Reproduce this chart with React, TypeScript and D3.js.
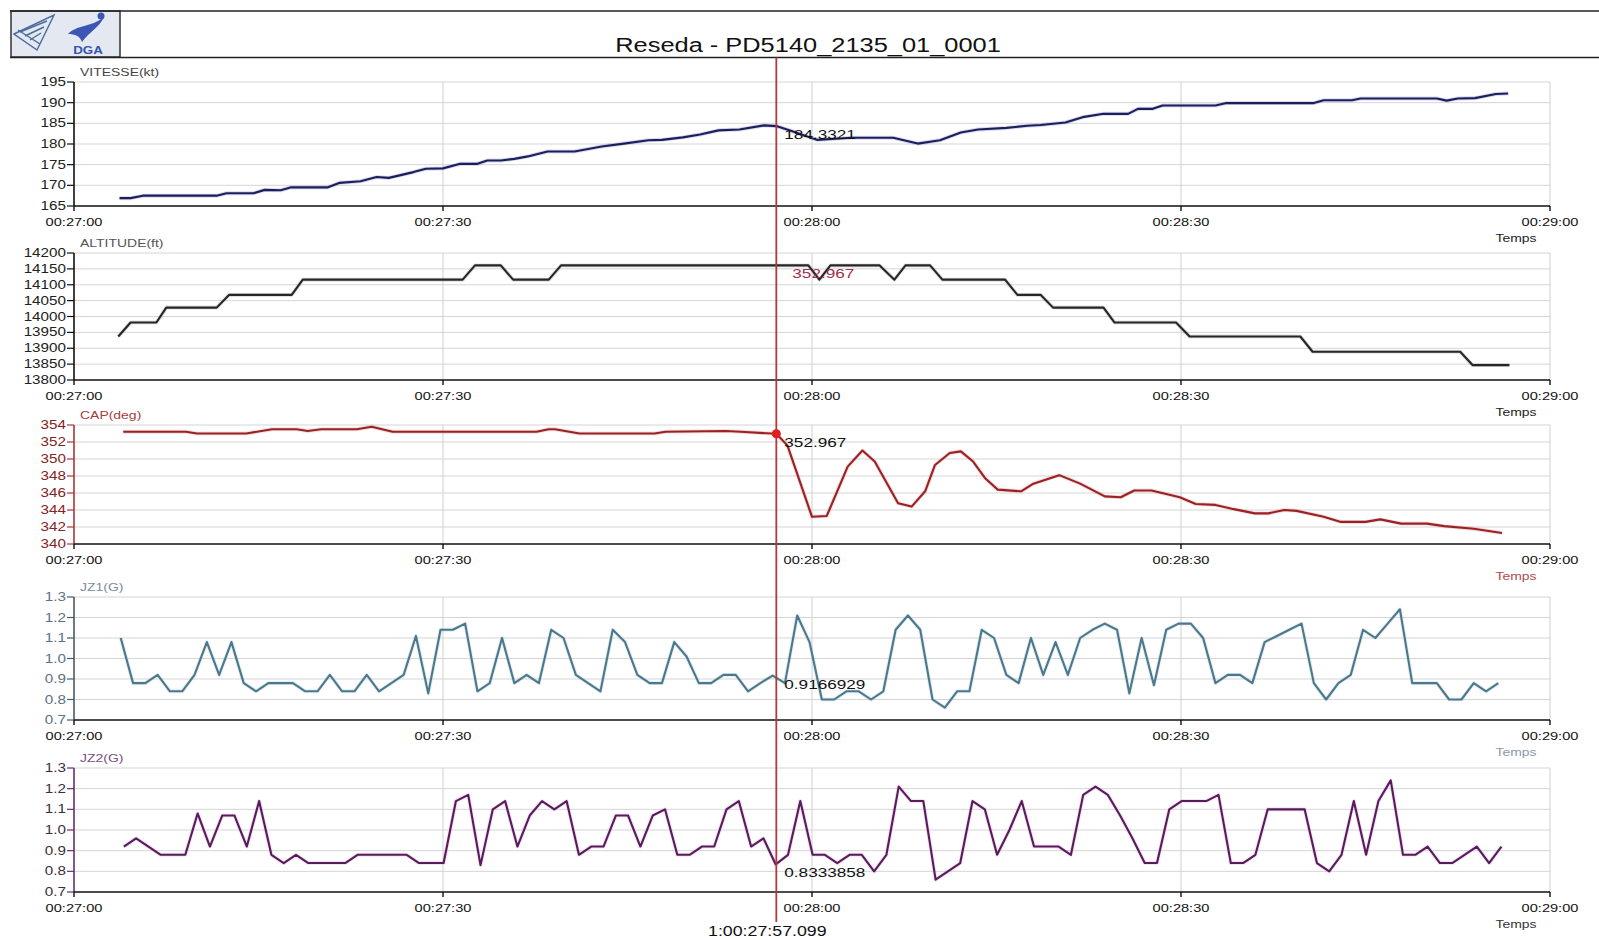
import React from "react";
import * as d3 from "d3";

// time axis is in seconds after 00:27:00
const timeTicks = [0, 30, 60, 90, 120];
const timeLabels = ["00:27:00", "00:27:30", "00:28:00", "00:28:30", "00:29:00"];
const cursorTime = 57.099;
const cursorStamp = "1:00:27:57.099";
const chartTitle = "Reseda - PD5140_2135_01_0001";

// VITESSE(kt)
const vitesseTimes = [3.7, 4.6, 5.6, 11.6, 12.4, 14.6, 15.5, 16.8, 17.6, 20.6, 21.6, 23.3, 24.6, 25.6, 27.6, 28.6, 30.0, 31.4, 32.8, 33.6, 34.7, 35.8, 36.9, 38.5, 40.7, 42.9, 44.7, 46.7, 47.8, 49.5, 50.9, 52.4, 54.1, 56.1, 57.099, 58.4, 60.4, 63.2, 66.6, 68.6, 70.4, 72.1, 73.5, 75.8, 77.5, 78.6, 80.6, 82.0, 83.7, 85.7, 86.5, 87.7, 88.5, 92.8, 93.7, 100.8, 101.6, 103.9, 104.6, 110.8, 111.6, 112.5, 113.9, 115.6, 116.6];
const vitesseValues = [166.9, 166.9, 167.5, 167.5, 168.1, 168.1, 168.9, 168.8, 169.5, 169.5, 170.6, 171.0, 172.0, 171.8, 173.2, 174.0, 174.1, 175.2, 175.2, 176.0, 176.0, 176.4, 177.0, 178.2, 178.2, 179.4, 180.1, 180.9, 181.0, 181.6, 182.3, 183.3, 183.5, 184.5, 184.33, 183.1, 181.0, 181.5, 181.5, 180.1, 180.9, 182.8, 183.5, 183.9, 184.4, 184.6, 185.2, 186.5, 187.3, 187.3, 188.5, 188.5, 189.3, 189.3, 189.9, 189.9, 190.6, 190.6, 191.0, 191.0, 190.5, 191.0, 191.1, 192.1, 192.2];

// ALTITUDE(ft)
const altTimes = [3.6, 4.6, 6.7, 7.5, 11.6, 12.6, 17.7, 18.6, 31.6, 32.6, 34.7, 35.7, 38.6, 39.6, 59.7, 60.6, 61.5, 65.5, 66.7, 67.6, 69.6, 70.6, 75.7, 76.7, 78.6, 79.6, 83.7, 84.6, 89.6, 90.7, 99.7, 100.7, 112.7, 113.7, 116.7];
const altValues = [13937, 13981, 13981, 14028, 14028, 14068, 14068, 14116, 14116, 14161, 14161, 14116, 14116, 14161, 14161, 14116, 14161, 14161, 14116, 14161, 14161, 14116, 14116, 14068, 14068, 14028, 14028, 13981, 13981, 13937, 13937, 13889, 13889, 13847, 13847];

// CAP(deg)
const capTimes = [4.0, 9.1, 10.0, 14.0, 16.1, 18.1, 19.0, 20.1, 23.0, 24.2, 25.9, 37.6, 38.6, 39.1, 41.1, 47.2, 48.1, 53.0, 54.2, 57.099, 58.0, 60.0, 61.2, 62.9, 64.1, 65.1, 67.0, 68.1, 69.2, 70.0, 71.2, 72.1, 73.1, 74.1, 75.1, 77.0, 78.0, 80.1, 81.8, 83.8, 85.1, 86.2, 87.6, 89.9, 91.2, 92.8, 94.3, 96.0, 97.1, 98.4, 99.4, 101.6, 103.0, 105.0, 106.2, 107.9, 110.0, 111.4, 113.8, 116.1];
const capValues = [353.2, 353.2, 353.0, 353.0, 353.5, 353.5, 353.3, 353.5, 353.5, 353.8, 353.2, 353.2, 353.5, 353.5, 353.0, 353.0, 353.2, 353.3, 353.2, 352.967, 351.6, 343.2, 343.3, 349.1, 351.0, 349.7, 344.8, 344.4, 346.2, 349.3, 350.7, 350.9, 349.7, 347.7, 346.4, 346.2, 347.1, 348.1, 347.1, 345.6, 345.5, 346.3, 346.3, 345.5, 344.7, 344.6, 344.1, 343.6, 343.6, 344.0, 343.9, 343.2, 342.6, 342.6, 342.9, 342.4, 342.4, 342.1, 341.8, 341.3];

// JZ1(G), one sample per second
const jz1Start = 3.8;
const jz1Values = [
  1.10, 0.88, 0.88, 0.92, 0.84, 0.84, 0.92, 1.08, 0.92, 1.08,
  0.88, 0.84, 0.88, 0.88, 0.88, 0.84, 0.84, 0.92, 0.84, 0.84,
  0.92, 0.84, 0.88, 0.92, 1.11, 0.83, 1.14, 1.14, 1.17, 0.84,
  0.88, 1.10, 0.88, 0.92, 0.88, 1.14, 1.10, 0.92, 0.88, 0.84,
  1.14, 1.08, 0.92, 0.88, 0.88, 1.08, 1.01, 0.88, 0.88, 0.92,
  0.92, 0.84, 0.88, 0.9166929, 0.88, 1.21, 1.08, 0.80, 0.80, 0.84,
  0.84, 0.80, 0.84, 1.14, 1.21, 1.14, 0.80, 0.76, 0.84, 0.84,
  1.14, 1.10, 0.92, 0.88, 1.10, 0.92, 1.08, 0.92, 1.10, 1.14,
  1.17, 1.14, 0.83, 1.10, 0.87, 1.14, 1.17, 1.17, 1.10, 0.88,
  0.92, 0.92, 0.88, 1.08, 1.11, 1.14, 1.17, 0.88, 0.80, 0.88,
  0.92, 1.14, 1.10, 1.17, 1.24, 0.88, 0.88, 0.88, 0.80, 0.80,
  0.88, 0.84, 0.88,
];

// JZ2(G), one sample per second
const jz2Start = 4.05;
const jz2Values = [
  0.92, 0.96, 0.92, 0.88, 0.88, 0.88, 1.08, 0.92, 1.07, 1.07,
  0.92, 1.14, 0.88, 0.84, 0.88, 0.84, 0.84, 0.84, 0.84, 0.88,
  0.88, 0.88, 0.88, 0.88, 0.84, 0.84, 0.84, 1.14, 1.17, 0.83,
  1.10, 1.14, 0.92, 1.07, 1.14, 1.10, 1.14, 0.88, 0.92, 0.92,
  1.07, 1.07, 0.92, 1.07, 1.10, 0.88, 0.88, 0.92, 0.92, 1.10,
  1.14, 0.92, 0.96, 0.8333858, 0.88, 1.14, 0.88, 0.88, 0.84, 0.88,
  0.88, 0.80, 0.88, 1.21, 1.14, 1.14, 0.76, 0.80, 0.84, 1.14,
  1.10, 0.88, 1.00, 1.14, 0.92, 0.92, 0.92, 0.88, 1.17, 1.21,
  1.17, 1.07, 0.96, 0.84, 0.84, 1.10, 1.14, 1.14, 1.14, 1.17,
  0.84, 0.84, 0.88, 1.10, 1.10, 1.10, 1.10, 0.84, 0.80, 0.88,
  1.14, 0.88, 1.14, 1.24, 0.88, 0.88, 0.92, 0.84, 0.84, 0.88,
  0.92, 0.84, 0.92,
];

const cursorReadouts = ["184.3321", "352.967", "352.967", "0.9166929", "0.8333858"];

const FONT = "'Liberation Sans', Arial, Helvetica, sans-serif";
const STRETCH = 1.27; // the original screenshot is wider than tall

function T({ x, y, children, size = 12, anchor = "start", fill = "#111", weight = "normal" }: any) {
  return (
    <g transform={`translate(${x},${y}) scale(${STRETCH},1)`}>
      <text x={0} y={0} fontSize={size} textAnchor={anchor} fill={fill} fontFamily={FONT} fontWeight={weight}>
        {children}
      </text>
    </g>
  );
}

function Panel({ p, x }: any) {
  const y = d3.scaleLinear().domain(p.domain).range([p.bottom, p.top]);
  const ticks = y.ticks(p.count);
  const fmt = d3.format(p.fmt);
  const line = d3
    .line<number[]>()
    .x((d) => x(d[0]))
    .y((d) => y(d[1]));
  const path = line(p.pts) || "";
  const x0 = x.range()[0];
  const x1 = x.range()[1];

  return (
    <g>
      {/* grid */}
      {ticks.slice(1).map((t: number) => (
        <line key={"h" + t} x1={x0} x2={x1} y1={y(t)} y2={y(t)} stroke="#d5d5d5" strokeWidth={1} />
      ))}
      {timeTicks.slice(1).map((t) => (
        <line key={"v" + t} x1={x(t)} x2={x(t)} y1={p.top} y2={p.bottom} stroke="#d0d0d0" strokeWidth={1} />
      ))}

      {/* series */}
      <path d={path} fill="none" stroke={p.halo} strokeWidth={4} strokeOpacity={0.3} strokeLinejoin="round" />
      <path d={path} fill="none" stroke={p.color} strokeWidth={2.1} strokeLinejoin="round" />

      {/* y axis */}
      <line x1={x0} x2={x0} y1={p.top} y2={p.bottom} stroke={p.axis} strokeWidth={1.6} />
      {ticks.map((t: number) => (
        <g key={"yt" + t}>
          <line x1={x0 - 7} x2={x0} y1={y(t)} y2={y(t)} stroke={p.axis} strokeWidth={1.2} />
          <T x={x0 - 8} y={y(t) + 4} anchor="end" fill={p.tick}>
            {fmt(t)}
          </T>
        </g>
      ))}

      {/* x axis */}
      <line x1={x0} x2={x1} y1={p.bottom} y2={p.bottom} stroke="#111" strokeWidth={1.6} />
      {timeTicks.map((t, i) => (
        <g key={"xt" + t}>
          <line x1={x(t)} x2={x(t)} y1={p.bottom} y2={p.bottom + 5} stroke="#111" strokeWidth={1.4} />
          <T x={x(t)} y={p.bottom + 20} anchor="middle" size={11.5} fill="#111">
            {timeLabels[i]}
          </T>
        </g>
      ))}
      <T x={1516} y={p.bottom + 36} anchor="middle" size={11} fill={p.temps}>
        Temps
      </T>
      <T x={80} y={p.top - 6} size={11} fill={p.labelColor}>
        {p.label}
      </T>
    </g>
  );
}

export default function App() {
  const x = d3.scaleLinear().domain([0, 120]).range([74, 1550]);
  const cx = x(cursorTime);

  const panels = [
    {
      label: "VITESSE(kt)", top: 82, bottom: 206, domain: [165, 195], count: 6, fmt: "d",
      pts: vitesseTimes.map((t, i) => [t, vitesseValues[i]]),
      color: "#1b1f5c", halo: "#7a80c8", axis: "#111", tick: "#222", labelColor: "#444", temps: "#222",
    },
    {
      label: "ALTITUDE(ft)", top: 253, bottom: 380, domain: [13800, 14200], count: 8, fmt: "d",
      pts: altTimes.map((t, i) => [t, altValues[i]]),
      color: "#262626", halo: "#999", axis: "#111", tick: "#222", labelColor: "#555", temps: "#222",
    },
    {
      label: "CAP(deg)", top: 425, bottom: 544, domain: [340, 354], count: 7, fmt: "d",
      pts: capTimes.map((t, i) => [t, capValues[i]]),
      color: "#9a2124", halo: "#d98a8a", axis: "#ad3535", tick: "#842424", labelColor: "#a34040", temps: "#b04a4a",
    },
    {
      label: "JZ1(G)", top: 597, bottom: 720, domain: [0.7, 1.3], count: 6, fmt: ".1f",
      pts: jz1Values.map((v, i) => [jz1Start + i, v]),
      color: "#4c788c", halo: "#a9c6d4", axis: "#4a5a66", tick: "#5b7384", labelColor: "#7a8ea0", temps: "#8a9aa8",
    },
    {
      label: "JZ2(G)", top: 768, bottom: 892, domain: [0.7, 1.3], count: 6, fmt: ".1f",
      pts: jz2Values.map((v, i) => [jz2Start + i, v]),
      color: "#561d59", halo: "#e09ae0", axis: "#6b2d6b", tick: "#3d2f3d", labelColor: "#7a5080", temps: "#333",
    },
  ];

  const capY = d3.scaleLinear().domain([340, 354]).range([544, 425]);

  return (
    <svg
      width={1599}
      height={940}
      style={{ position: "absolute", left: 0, top: 0, display: "block", background: "#fff" }}
    >
      <rect x={0} y={0} width={1599} height={940} fill="#fff" />

      {/* header */}
      <rect x={11} y={11} width={109} height={46} fill="#e4e8f1" stroke="#333" strokeWidth={1.5} />
      <g stroke="#4a6c9c" strokeWidth={1.4} fill="none">
        <path d="M14,34 L54,15 L37,50 Z" />
        <path d="M20,32 L47,21 M25,36 L44,27 M30,40 L41,33 M18,30 L40,44" />
      </g>
      <path d="M68,34 C78,24 90,28 104,17 C99,28 90,31 82,42 C80,36 75,34 68,34 Z" fill="#3b56b4" />
      <circle cx={101} cy={16} r={3.5} fill="#3b56b4" />
      <T x={88} y={54} anchor="middle" size={10.5} weight="bold" fill="#3552b0">
        DGA
      </T>
      <line x1={10} x2={1599} y1={11} y2={11} stroke="#222" strokeWidth={1.5} />
      <line x1={10} x2={1599} y1={57.5} y2={57.5} stroke="#222" strokeWidth={1.5} />
      <T x={808} y={52} anchor="middle" size={20} fill="#111">
        {chartTitle}
      </T>

      {panels.map((p, i) => (
        <Panel key={i} p={p} x={x} />
      ))}

      {/* cursor */}
      <line x1={cx} x2={cx} y1={57.5} y2={922} stroke="#b23a3a" strokeWidth={1.8} />
      <circle cx={cx} cy={capY(352.967)} r={4.5} fill="#e01f1f" />

      {panels.map((p, i) => {
        const y = d3.scaleLinear().domain(p.domain).range([p.bottom, p.top]);
        const yy = i === 1 ? p.top + 25 : y(parseFloat(cursorReadouts[i])) + 13;
        return (
          <T key={"r" + i} x={cx + (i === 1 ? 16 : 8)} y={yy} size={13.5} fill={i === 1 ? "#a3304a" : "#111"}>
            {cursorReadouts[i]}
          </T>
        );
      })}

      <T x={cx - 9} y={936} anchor="middle" size={14} fill="#111">
        {cursorStamp}
      </T>
    </svg>
  );
}
